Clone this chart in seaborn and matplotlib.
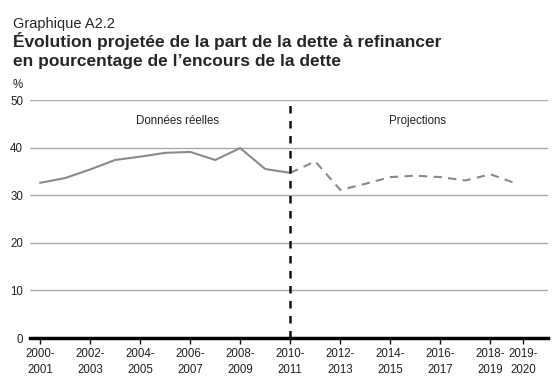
import matplotlib
matplotlib.use('Agg')
import matplotlib.pyplot as plt
import seaborn as sns
import pandas as pd

# years (fiscal) and values
years = ['2000-\n2001', '2001-\n2002', '2002-\n2003', '2003-\n2004', '2004-\n2005',
         '2005-\n2006', '2006-\n2007', '2007-\n2008', '2008-\n2009', '2009-\n2010',
         '2010-\n2011', '2011-\n2012', '2012-\n2013', '2013-\n2014', '2014-\n2015',
         '2015-\n2016', '2016-\n2017', '2017-\n2018', '2018-\n2019', '2019-\n2020']
actual = [32.6, 33.6, 35.4, 37.4, 38.1, 38.9, 39.1, 37.4, 39.9, 35.5, 34.7]
projected = [34.7, 37.1, 31.1, 32.4, 33.8, 34.1, 33.8, 33.1, 34.4, 32.5]
tick_idx = [0, 2, 4, 6, 8, 10, 12, 14, 16, 18, 19]
y_ticks = [0, 10, 20, 30, 40, 50]

df_act = pd.DataFrame({'x': range(len(actual)), 'val': actual})
df_proj = pd.DataFrame({'x': range(len(actual) - 1, len(actual) - 1 + len(projected)), 'val': projected})

sns.set_style('white')
plt.rcParams['font.family'] = ['Liberation Sans', 'DejaVu Sans']

fig = plt.figure(figsize=(5.6, 3.8), dpi=100)
ax = fig.add_axes([0.0536, 0.1105, 0.925, 0.6263])

grey = '#8a8a8a'
sns.lineplot(data=df_act, x='x', y='val', ax=ax, color=grey, lw=1.5)
sns.lineplot(data=df_proj, x='x', y='val', ax=ax, color=grey, lw=1.5, dashes=False,
             linestyle=(0, (4, 3)))

ax.axvline(10, color='#111111', lw=1.8, ls=(0, (3, 3)), zorder=3)

ax.set_xlim(-0.4, 20.3)
ax.set_ylim(0, 50)
ax.set_yticks(y_ticks)
ax.set_xticks([t + (0.3 if t == 19 else 0) for t in tick_idx])
ax.set_xticklabels([years[t] for t in tick_idx], fontsize=8.3, linespacing=1.5)
ax.tick_params(axis='y', length=0, pad=5, labelsize=8.3, labelcolor='#222222')
ax.tick_params(axis='x', length=4, width=1, color='#111111', pad=3, direction='out',
               bottom=True, labelcolor='#222222')
ax.grid(axis='y', color='#aaaaaa', lw=1)
ax.set_xlabel('')
ax.set_ylabel('')
for s in ['left', 'right', 'top']:
    ax.spines[s].set_visible(False)
ax.spines['bottom'].set_color('#000000')
ax.spines['bottom'].set_linewidth(2.5)
ax.spines['bottom'].set_zorder(4)

ax.text(5.5, 45.5, 'Données réelles', ha='center', va='center', fontsize=8.3, color='#222222')
ax.text(15.1, 45.5, 'Projections', ha='center', va='center', fontsize=8.3, color='#222222')

fig.text(13 / 560, 1 - 28 / 380, 'Graphique A2.2', fontsize=10.5, va='baseline', ha='left')
fig.text(13 / 560, 1 - 47 / 380, 'Évolution projetée de la part de la dette à refinancer',
         fontsize=12.5, fontweight='bold', va='baseline', ha='left')
fig.text(13 / 560, 1 - 66 / 380, 'en pourcentage de l’encours de la dette',
         fontsize=12.5, fontweight='bold', va='baseline', ha='left')
fig.text(13 / 560, 1 - 88 / 380, '%', fontsize=8.3, va='baseline', ha='left', color='#222222')

fig.savefig('out.png', dpi=100)
